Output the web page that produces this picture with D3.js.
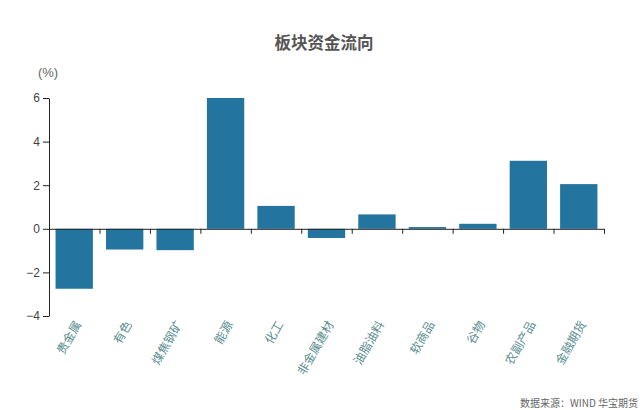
<!DOCTYPE html>
<html>
<head>
<meta charset="utf-8">
<script src="https://cdn.jsdelivr.net/npm/d3@7"></script>
<style>
  body { margin: 0; background: #fff; }
  svg text { font-family: "Liberation Sans", "Noto Sans CJK SC", sans-serif; }
</style>
</head>
<body>
<div id="chart"></div>
<script>
// sector names and fund flow (%)
var categories = ["贵金属", "有色", "煤焦钢矿", "能源", "化工", "非金属建材", "油脂油料", "软商品", "谷物", "农副产品", "金融期货"];
var flows = [-2.75, -0.95, -0.98, 6.0, 1.05, -0.42, 0.66, 0.08, 0.23, 3.12, 2.05];
var yTicks = [-4, -2, 0, 2, 4, 6];

var width = 644, height = 410;
var margin = {top: 98, right: 40, bottom: 94, left: 49};

var svg = d3.select("#chart").append("svg")
    .attr("width", width)
    .attr("height", height);

var x = d3.scaleBand()
    .domain(categories)
    .range([margin.left, width - margin.right])
    .padding(0);

var y = d3.scaleLinear()
    .domain([-4, 6])
    .range([height - margin.bottom, margin.top]);

// title
svg.append("text")
    .attr("x", 324)
    .attr("y", 49)
    .attr("text-anchor", "middle")
    .style("font-family", "'Noto Sans CJK SC', sans-serif")
    .style("font-size", "16.5px")
    .style("font-weight", "bold")
    .style("fill", "#555")
    .text("板块资金流向");

// unit label
svg.append("text")
    .attr("x", 48)
    .attr("y", 77)
    .attr("text-anchor", "middle")
    .style("font-size", "13px")
    .style("fill", "#666")
    .text("(%)");

// bars
var barW = x.bandwidth() * 0.74;
svg.selectAll("rect.bar")
    .data(categories)
    .enter()
    .append("rect")
    .attr("class", "bar")
    .attr("x", function(d) { return x(d) + (x.bandwidth() - barW) / 2; })
    .attr("y", function(d, i) { return y(Math.max(0, flows[i])); })
    .attr("width", barW)
    .attr("height", function(d, i) { return Math.abs(y(flows[i]) - y(0)); })
    .style("fill", "#23749f");

// y axis
var yAxis = svg.append("g")
    .attr("transform", "translate(" + margin.left + ",0)")
    .call(d3.axisLeft(y).tickValues(yTicks).tickSize(6).tickSizeOuter(0));
yAxis.selectAll("text").style("font-size", "12px").style("fill", "#444");
yAxis.selectAll("path, line").style("stroke", "#222");

// x axis, ticks on band boundaries
var xb = d3.scaleLinear()
    .domain([0, categories.length])
    .range([margin.left, width - margin.right]);
var xAxis = svg.append("g")
    .attr("transform", "translate(0," + y(0) + ")")
    .call(d3.axisBottom(xb).tickValues(d3.range(1, categories.length + 1)).tickFormat("").tickSize(5).tickSizeOuter(0));
xAxis.selectAll("path, line").style("stroke", "#222");

// category labels, rotated
svg.selectAll("text.cat")
    .data(categories)
    .enter()
    .append("text")
    .attr("class", "cat")
    .attr("transform", function(d) {
        return "translate(" + (x(d) + x.bandwidth() / 2 + 4) + "," + 322 + ") rotate(-60)";
    })
    .attr("text-anchor", "end")
    .attr("dy", "0.35em")
    .style("font-family", "'Noto Sans CJK SC', sans-serif")
    .style("font-size", "12px")
    .style("fill", "#5a8e8f")
    .text(function(d) { return d; });

// source note
svg.append("text")
    .attr("x", 638)
    .attr("y", 407)
    .attr("text-anchor", "end")
    .style("font-family", "'Noto Sans CJK SC', sans-serif")
    .style("font-size", "10px")
    .style("fill", "#666")
    .text("数据来源：WIND 华宝期货");
</script>
</body>
</html>
